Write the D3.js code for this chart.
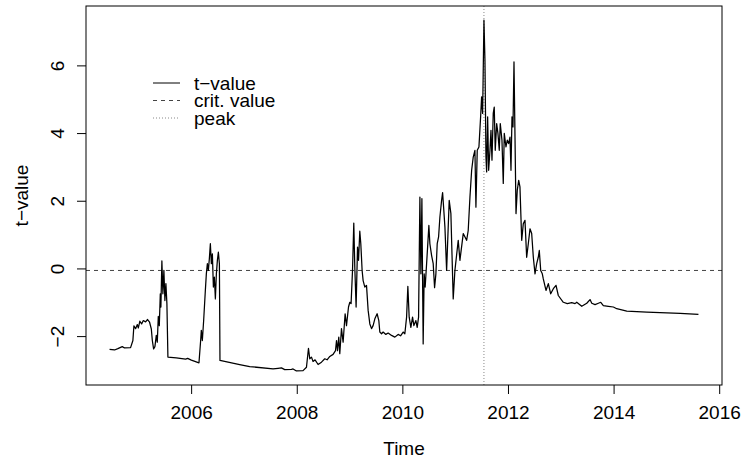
<!DOCTYPE html>
<html>
<head>
<meta charset="utf-8">
<script src="https://cdn.jsdelivr.net/npm/d3@7"></script>
<style>
  html, body { margin: 0; padding: 0; background: #fff; }
  svg { display: block; }
  text { font-family: "Liberation Sans", Arial, Helvetica, sans-serif; fill: #000; }
</style>
</head>
<body>
<svg id="chart" width="744" height="464"></svg>
<script>
// Weekly t-statistic series: decimal year and t-value
const years = [
  2004.455, 2004.550, 2004.612, 2004.696, 2004.739, 2004.853, 2004.897, 2004.916, 2004.948, 2004.981,
  2005.000, 2005.029, 2005.062, 2005.094, 2005.137, 2005.175, 2005.213, 2005.246, 2005.265, 2005.289,
  2005.314, 2005.340, 2005.359, 2005.378, 2005.397, 2005.416, 2005.427, 2005.446, 2005.465, 2005.484,
  2005.503, 2005.522, 2005.541, 2005.560, 2005.719, 2005.896, 2005.934, 2006.004, 2006.148, 2006.180,
  2006.193, 2006.212, 2006.237, 2006.269, 2006.288, 2006.307, 2006.326, 2006.345, 2006.364, 2006.383,
  2006.402, 2006.421, 2006.440, 2006.459, 2006.478, 2006.497, 2006.516, 2006.535, 2006.546, 2006.919,
  2007.109, 2007.551, 2007.645, 2007.710, 2007.772, 2007.899, 2007.930, 2007.994, 2008.119, 2008.184,
  2008.222, 2008.246, 2008.279, 2008.309, 2008.347, 2008.404, 2008.468, 2008.531, 2008.574, 2008.626,
  2008.688, 2008.734, 2008.753, 2008.772, 2008.796, 2008.815, 2008.847, 2008.878, 2008.916, 2008.942,
  2008.980, 2009.005, 2009.029, 2009.056, 2009.080, 2009.099, 2009.124, 2009.151, 2009.170, 2009.194,
  2009.213, 2009.238, 2009.257, 2009.289, 2009.321, 2009.352, 2009.384, 2009.416, 2009.446, 2009.479,
  2009.522, 2009.554, 2009.573, 2009.606, 2009.636, 2009.687, 2009.731, 2009.795, 2009.858, 2009.920,
  2009.966, 2010.015, 2010.047, 2010.080, 2010.104, 2010.129, 2010.161, 2010.193, 2010.218, 2010.256,
  2010.281, 2010.307, 2010.332, 2010.351, 2010.370, 2010.383, 2010.394, 2010.413, 2010.432, 2010.459,
  2010.478, 2010.502, 2010.521, 2010.554, 2010.584, 2010.610, 2010.635, 2010.660, 2010.686, 2010.711,
  2010.743, 2010.762, 2010.781, 2010.806, 2010.838, 2010.887, 2010.919, 2010.963, 2010.995, 2011.058,
  2011.090, 2011.153, 2011.217, 2011.247, 2011.280, 2011.312, 2011.342, 2011.374, 2011.393, 2011.418,
  2011.450, 2011.482, 2011.501, 2011.520, 2011.545, 2011.564, 2011.583, 2011.596, 2011.615, 2011.634,
  2011.659, 2011.678, 2011.697, 2011.721, 2011.740, 2011.759, 2011.786, 2011.810, 2011.835, 2011.854,
  2011.886, 2011.911, 2011.930, 2011.962, 2011.987, 2012.013, 2012.038, 2012.057, 2012.076, 2012.095,
  2012.114, 2012.133, 2012.152, 2012.176, 2012.203, 2012.227, 2012.260, 2012.290, 2012.322, 2012.354,
  2012.385, 2012.417, 2012.449, 2012.480, 2012.512, 2012.544, 2012.574, 2012.593, 2012.620, 2012.650,
  2012.669, 2012.720, 2012.764, 2012.809, 2012.859, 2012.910, 2012.953, 2013.048, 2013.124, 2013.207,
  2013.270, 2013.302, 2013.397, 2013.492, 2013.554, 2013.587, 2013.649, 2013.712, 2013.757, 2013.806,
  2013.901, 2013.996, 2014.060, 2014.250, 2014.629, 2015.260, 2015.607
];
const tValues = [
  -2.39, -2.41, -2.37, -2.31, -2.35, -2.34, -2.13, -1.70, -1.78, -1.66,
  -1.76, -1.56, -1.64, -1.54, -1.58, -1.51, -1.59, -1.79, -2.13, -2.38,
  -2.31, -1.98, -2.18, -1.42, -1.69, -0.75, -1.14, 0.22, -0.75, -0.06,
  -0.95, -0.45, -1.04, -2.62, -2.64, -2.68, -2.66, -2.71, -2.79, -2.13,
  -1.83, -2.13, -1.54, -0.65, -0.16, 0.14, -0.06, 0.29, 0.73, 0.14,
  0.43, -0.55, -0.26, -0.90, -0.16, 0.24, 0.48, 0.14, -2.72, -2.84,
  -2.90, -2.97, -2.95, -2.94, -2.99, -2.98, -2.97, -3.03, -3.02, -2.92,
  -2.36, -2.67, -2.62, -2.75, -2.70, -2.84, -2.77, -2.67, -2.70, -2.60,
  -2.54, -2.43, -2.13, -2.43, -2.03, -2.52, -1.78, -2.18, -1.34, -1.69,
  -1.14, -1.00, -1.04, -0.06, 1.34, 0.04, -1.14, 0.63, 0.24, 1.10,
  0.73, -0.06, -0.36, -0.55, -0.50, -1.24, -1.64, -1.78, -1.69, -1.49,
  -1.34, -1.54, -1.88, -1.93, -1.88, -1.95, -1.91, -1.98, -2.03, -1.95,
  -1.99, -1.88, -1.93, -1.44, -0.53, -1.44, -1.74, -1.44, -1.69, -1.54,
  -1.74, -1.44, 2.11, -0.16, 2.06, -0.36, -2.23, -0.16, -0.55, 0.14,
  0.63, 1.27, 0.73, 0.38, 0.14, -0.57, -0.16, 0.73, 0.93, 1.52,
  2.01, 2.24, 1.81, 1.22, -0.06, 2.01, 1.62, -0.90, -0.06, 0.83,
  0.24, 1.03, 0.83, 1.12, 2.11, 2.90, 3.29, 3.49, 1.81, 3.49,
  3.59, 4.48, 5.07, 4.58, 7.34, 6.15, 3.29, 2.85, 4.48, 2.90,
  3.49, 4.08, 3.20, 4.58, 4.77, 3.49, 4.28, 3.99, 3.49, 4.28,
  3.79, 2.51, 3.99, 3.59, 3.79, 3.69, 3.88, 2.90, 4.48, 4.18,
  6.10, 3.88, 1.62, 2.31, 2.60, 2.41, 0.83, 1.32, 1.42, 0.33,
  0.73, 1.17, 1.03, 0.33, -0.16, 0.14, 0.33, 0.53, -0.06, -0.16,
  -0.31, -0.65, -0.45, -0.75, -0.60, -0.50, -0.80, -1.00, -1.04, -1.01,
  -1.04, -1.00, -1.12, -1.03, -0.92, -1.03, -1.07, -1.03, -1.00, -1.10,
  -1.12, -1.14, -1.19, -1.26, -1.29, -1.33, -1.36
];
const critValue = -0.06;
const xTicks = [2006, 2008, 2010, 2012, 2014, 2016];
const yTicks = [-2, 0, 2, 4, 6];
const legendLabels = ["t\u2212value", "crit. value", "peak"];

const series = years.map((yr, i) => ({ t: yr, v: tValues[i] }));

const W = 744, H = 464;
const plot = { left: 86, right: 722, top: 6, bottom: 385 };
const fontSize = 19;

// R-style axis ranges: data extent padded by 4% on each side
function padded(ext) {
  const d = (ext[1] - ext[0]) * 0.04;
  return [ext[0] - d, ext[1] + d];
}

const x = d3.scaleLinear()
  .domain(padded(d3.extent(years)))
  .range([plot.left, plot.right]);
const y = d3.scaleLinear()
  .domain(padded(d3.extent(tValues)))
  .range([plot.bottom, plot.top]);

const svg = d3.select("#chart");
svg.append("rect").attr("width", W).attr("height", H).attr("fill", "#fff");

// Peak date: the week with the largest t-value
const peak = series[d3.maxIndex(series, d => d.v)];

// Critical value (dashed)
svg.append("line")
  .attr("x1", plot.left).attr("x2", plot.right)
  .attr("y1", y(critValue)).attr("y2", y(critValue))
  .attr("stroke", "#444").attr("stroke-width", 1)
  .attr("stroke-dasharray", "4,4");

// Peak marker (dotted)
svg.append("line")
  .attr("x1", x(peak.t)).attr("x2", x(peak.t))
  .attr("y1", plot.top).attr("y2", plot.bottom)
  .attr("stroke", "#888").attr("stroke-width", 1)
  .attr("stroke-dasharray", "1,2");

// t-value series
svg.append("path")
  .datum(series)
  .attr("fill", "none")
  .attr("stroke", "#000")
  .attr("stroke-width", 1.25)
  .attr("stroke-linejoin", "round")
  .attr("d", d3.line().x(d => x(d.t)).y(d => y(d.v)));

// Axes
const xAxis = svg.append("g")
  .attr("transform", `translate(0,${plot.bottom})`)
  .call(d3.axisBottom(x).tickValues(xTicks).tickFormat(d3.format("d")).tickSize(9).tickPadding(12));
const yAxis = svg.append("g")
  .attr("transform", `translate(${plot.left},0)`)
  .call(d3.axisLeft(y).tickValues(yTicks).tickFormat(d => d < 0 ? "\u2212" + Math.abs(d) : d).tickSize(9));

[xAxis, yAxis].forEach(g => {
  g.select(".domain").remove();
  g.selectAll(".tick line").attr("stroke", "#000").attr("stroke-width", 1);
  g.selectAll(".tick text")
    .style("font-family", '"Liberation Sans", Arial, sans-serif')
    .style("font-size", fontSize + "px")
    .attr("fill", "#000");
});

// Rotated y tick labels, centred on each tick, baseline facing the axis
yAxis.selectAll(".tick text")
  .attr("x", null).attr("dy", null)
  .attr("text-anchor", "middle")
  .attr("transform", "translate(-22.5,0) rotate(-90)");

// Plot frame
svg.append("rect")
  .attr("x", plot.left).attr("y", plot.top)
  .attr("width", plot.right - plot.left).attr("height", plot.bottom - plot.top)
  .attr("fill", "none").attr("stroke", "#000").attr("stroke-width", 1);

// Axis titles
svg.append("text")
  .attr("x", (plot.left + plot.right) / 2).attr("y", 455)
  .attr("text-anchor", "middle")
  .style("font-size", fontSize + "px")
  .text("Time");
svg.append("text")
  .attr("transform", `translate(28,${(plot.top + plot.bottom) / 2}) rotate(-90)`)
  .attr("text-anchor", "middle")
  .style("font-size", fontSize + "px")
  .text("t\u2212value");

// Legend
const legendStyles = [
  { dash: null, color: "#000" },
  { dash: "4,4", color: "#444" },
  { dash: "1,2", color: "#888" }
];
const legend = svg.append("g");
legendLabels.forEach((lab, i) => {
  const ly = 83 + i * 17.5;
  legend.append("line")
    .attr("x1", 153).attr("x2", 180)
    .attr("y1", ly).attr("y2", ly)
    .attr("stroke", legendStyles[i].color).attr("stroke-width", 1)
    .attr("stroke-dasharray", legendStyles[i].dash);
  legend.append("text")
    .attr("x", 194).attr("y", ly)
    .attr("dominant-baseline", "central")
    .style("font-size", fontSize + "px")
    .text(lab);
});
</script>
</body>
</html>
